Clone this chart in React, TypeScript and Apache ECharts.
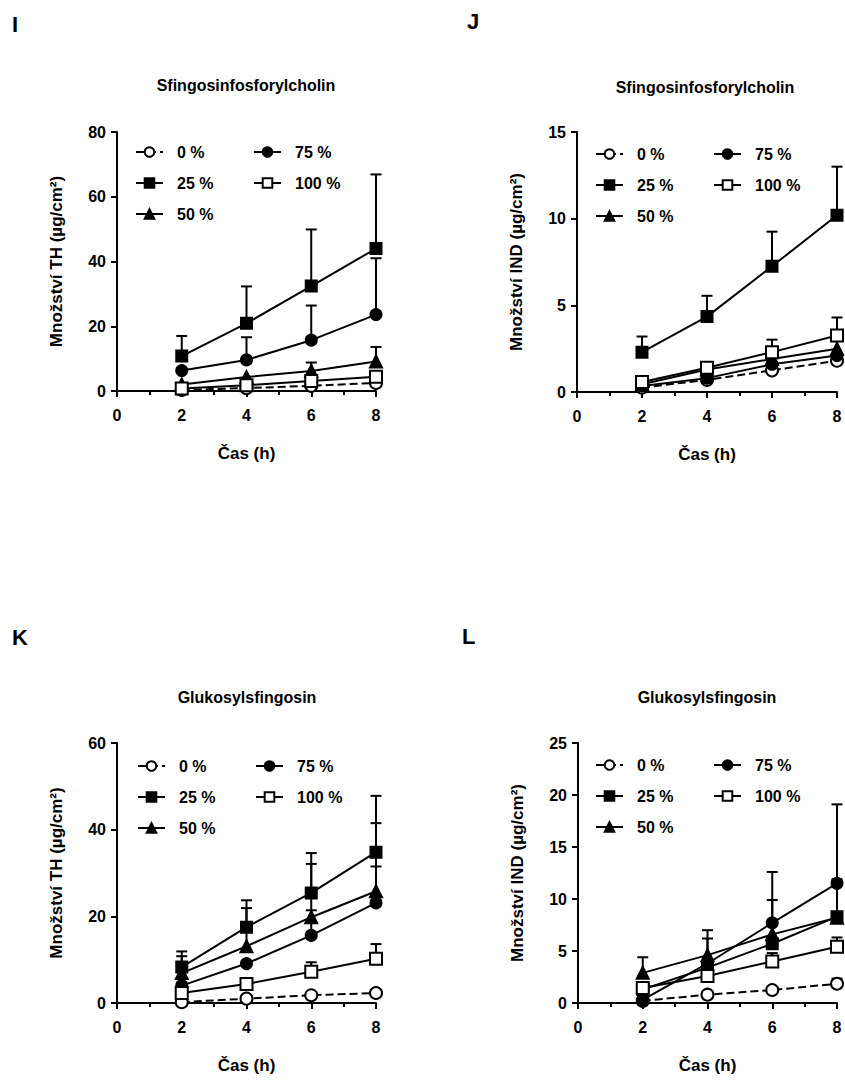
import React, { useEffect, useRef } from "react";
import * as echarts from "echarts";

// ---------- data ----------
const times = [2, 4, 6, 8];
const seriesNames = ["0 %", "25 %", "50 %", "75 %", "100 %"];

// Panel I: Sfingosinfosforylcholin, TH
const iMean0 = [0.3, 0.9, 1.6, 2.5];
const iMean25 = [10.8, 20.9, 32.4, 44.0];
const iMean50 = [2.0, 4.3, 6.2, 9.1];
const iMean75 = [6.3, 9.6, 15.7, 23.6];
const iMean100 = [0.8, 1.8, 3.1, 4.4];
const iSd0 = [null, null, null, null];
const iSd25 = [6.2, 11.4, 17.5, 22.9];
const iSd50 = [null, null, 2.6, 4.5];
const iSd75 = [null, 7.0, 10.7, 17.4];
const iSd100 = [null, null, null, null];

// Panel J: Sfingosinfosforylcholin, IND
const jMean0 = [0.25, 0.7, 1.25, 1.8];
const jMean25 = [2.3, 4.35, 7.25, 10.2];
const jMean50 = [0.45, 1.3, 1.9, 2.5];
const jMean75 = [0.35, 0.8, 1.6, 2.1];
const jMean100 = [0.58, 1.4, 2.3, 3.26];
const jSd0 = [null, null, null, null];
const jSd25 = [0.9, 1.2, 2.0, 2.8];
const jSd50 = [null, null, null, null];
const jSd75 = [null, null, null, null];
const jSd100 = [null, 0.2, 0.72, 1.04];

// Panel K: Glukosylsfingosin, TH
const kMean0 = [0.2, 1.0, 1.8, 2.3];
const kMean25 = [8.3, 17.5, 25.4, 34.8];
const kMean50 = [6.9, 13.1, 19.8, 25.8];
const kMean75 = [4.0, 9.1, 15.6, 23.1];
const kMean100 = [2.3, 4.4, 7.2, 10.2];
const kSd0 = [null, null, null, null];
const kSd25 = [3.6, 6.2, 9.2, 13.0];
const kSd50 = [3.9, 8.8, 12.3, 15.7];
const kSd75 = [null, null, 5.8, 8.4];
const kSd100 = [null, null, 2.2, 3.4];

// Panel L: Glukosylsfingosin, IND
const lMean0 = [0.2, 0.8, 1.25, 1.85];
const lMean25 = [1.3, 3.4, 5.7, 8.3];
const lMean50 = [2.9, 4.6, 6.6, 8.2];
const lMean75 = [0.3, 3.8, 7.7, 11.5];
const lMean100 = [1.45, 2.6, 4.0, 5.4];
const lSd0 = [null, null, null, 0.5];
const lSd25 = [null, null, null, 3.6];
const lSd50 = [1.5, 2.4, 3.3, null];
const lSd75 = [null, 2.4, 4.9, 7.6];
const lSd100 = [null, null, 0.8, 0.9];

const xTicks = [0, 2, 4, 6, 8];
const yMaxI = 80, yStepI = 20;
const yMaxJ = 15, yStepJ = 5;
const yMaxK = 60, yStepK = 20;
const yMaxL = 25, yStepL = 5;

const panelLetters = ["I", "J", "K", "L"];
const panelTitles = ["Sfingosinfosforylcholin", "Sfingosinfosforylcholin", "Glukosylsfingosin", "Glukosylsfingosin"];
const yNames = ["Množství TH (µg/cm²)", "Množství IND (µg/cm²)", "Množství TH (µg/cm²)", "Množství IND (µg/cm²)"];
const xName = "Čas (h)";

// ---------- layout ----------
const FONT = "Liberation Sans, Arial, Helvetica, sans-serif";
const panels = [
  { left: 117, top: 132, width: 259, height: 259, max: yMaxI, step: yStepI,
    means: [iMean0, iMean25, iMean50, iMean75, iMean100], sds: [iSd0, iSd25, iSd50, iSd75, iSd100],
    titleX: 246, titleY: 85, letterX: 12, letterY: 24, legTop: 144, leg1: 135, leg2: 253 },
  { left: 577, top: 132, width: 260, height: 260, max: yMaxJ, step: yStepJ,
    means: [jMean0, jMean25, jMean50, jMean75, jMean100], sds: [jSd0, jSd25, jSd50, jSd75, jSd100],
    titleX: 705, titleY: 87, letterX: 467, letterY: 21, legTop: 146, leg1: 595, leg2: 713 },
  { left: 117, top: 743, width: 259, height: 260, max: yMaxK, step: yStepK,
    means: [kMean0, kMean25, kMean50, kMean75, kMean100], sds: [kSd0, kSd25, kSd50, kSd75, kSd100],
    titleX: 247, titleY: 697, letterX: 12, letterY: 637, legTop: 758, leg1: 137, leg2: 255 },
  { left: 578, top: 743, width: 259, height: 260, max: yMaxL, step: yStepL,
    means: [lMean0, lMean25, lMean50, lMean75, lMean100], sds: [lSd0, lSd25, lSd50, lSd75, lSd100],
    titleX: 707, titleY: 697, letterX: 462, letterY: 636, legTop: 757, leg1: 595, leg2: 713 },
];

const styles = [
  { symbol: "circle", size: 12, fill: "#fff", dash: "dashed" },
  { symbol: "rect", size: 11, fill: "#000", dash: "solid" },
  { symbol: "triangle", size: 12, fill: "#000", dash: "solid" },
  { symbol: "circle", size: 11, fill: "#000", dash: "solid" },
  { symbol: "rect", size: 12, fill: "#fff", dash: "solid" },
];

function errRender(params: any, api: any) {
  const x = api.value(0);
  const y = api.value(1);
  const t = api.value(2);
  const p0 = api.coord([x, y]);
  const p1 = api.coord([x, t]);
  const st = { stroke: "#000", lineWidth: 2 };
  return {
    type: "group",
    children: [
      { type: "line", shape: { x1: p0[0], y1: p0[1], x2: p1[0], y2: p1[1] }, style: st },
      { type: "line", shape: { x1: p1[0] - 5.5, y1: p1[1], x2: p1[0] + 5.5, y2: p1[1] }, style: st },
    ],
  };
}

function buildOption() {
  const grid: any[] = [];
  const xAxis: any[] = [];
  const yAxis: any[] = [];
  const series: any[] = [];
  const legend: any[] = [];
  const graphic: any[] = [];
  const axisLabelStyle = { color: "#000", fontFamily: FONT, fontWeight: "bold", fontSize: 16 };

  panels.forEach((p, gi) => {
    grid.push({ left: p.left, top: p.top, width: p.width, height: p.height, containLabel: false });
    xAxis.push({
      type: "value", gridIndex: gi, min: xTicks[0], max: xTicks[xTicks.length - 1], interval: 2,
      name: xName, nameLocation: "middle", nameGap: 54,
      nameTextStyle: { color: "#000", fontFamily: FONT, fontWeight: "bold", fontSize: 17 },
      axisLine: { lineStyle: { color: "#000", width: 2 } },
      axisTick: { length: 6, lineStyle: { color: "#000", width: 2 } },
      minorTick: { show: true, splitNumber: 2, length: 4, lineStyle: { color: "#000", width: 2 } },
      axisLabel: { ...axisLabelStyle, margin: 16 },
      splitLine: { show: false },
    });
    yAxis.push({
      type: "value", gridIndex: gi, min: 0, max: p.max, interval: p.step,
      name: yNames[gi], nameLocation: "middle", nameGap: 52, nameRotate: 90,
      nameTextStyle: { color: "#000", fontFamily: FONT, fontWeight: "bold", fontSize: 17 },
      axisLine: { show: true, lineStyle: { color: "#000", width: 2 } },
      axisTick: { show: true, length: 6, lineStyle: { color: "#000", width: 2 } },
      axisLabel: { ...axisLabelStyle, margin: 11 },
      splitLine: { show: false },
    });

    // error bars
    p.sds.forEach((sd, si) => {
      const data: any[] = [];
      sd.forEach((v, ti) => {
        if (v != null) data.push([times[ti], p.means[si][ti], p.means[si][ti] + v]);
      });
      if (data.length) {
        series.push({
          type: "custom", name: "err" + gi + "_" + si, xAxisIndex: gi, yAxisIndex: gi,
          renderItem: errRender, data, encode: { x: 0, y: [1, 2] }, z: 1, silent: true,
        });
      }
    });

    p.means.forEach((m, si) => {
      const s = styles[si];
      series.push({
        type: "line", name: seriesNames[si], xAxisIndex: gi, yAxisIndex: gi,
        data: m.map((v, ti) => [times[ti], v]),
        symbol: s.symbol, symbolSize: s.size, showSymbol: true,
        itemStyle: { color: s.fill, borderColor: "#000", borderWidth: 2 },
        lineStyle: { color: "#000", width: 2, type: s.dash },
        z: 2 + si, clip: false, silent: true,
      });
    });

    const legCommon = {
      orient: "vertical", top: p.legTop, padding: 0, itemGap: 15,
      itemWidth: 27, itemHeight: 12, selectedMode: false,
      textStyle: { color: "#000", fontFamily: FONT, fontWeight: "bold", fontSize: 16, padding: [0, 0, 0, 9] },
    };
    legend.push({ ...legCommon, left: p.leg1, data: [seriesNames[0], seriesNames[1], seriesNames[2]] });
    legend.push({ ...legCommon, left: p.leg2, data: [seriesNames[3], seriesNames[4]] });

    graphic.push({
      type: "text", x: p.titleX, y: p.titleY,
      style: { text: panelTitles[gi], fill: "#000", font: `bold 16px ${FONT}`, textAlign: "center", textVerticalAlign: "middle" },
    });
    graphic.push({
      type: "text", x: p.letterX, y: p.letterY,
      style: { text: panelLetters[gi], fill: "#000", font: `bold 22px ${FONT}`, textAlign: "left", textVerticalAlign: "middle" },
    });
  });

  return { animation: false, backgroundColor: "#fff", grid, xAxis, yAxis, series, legend, graphic };
}

export default function App() {
  const ref = useRef<HTMLDivElement>(null);
  useEffect(() => {
    if (!ref.current) return;
    const chart = echarts.init(ref.current, undefined, { renderer: "svg" });
    chart.setOption(buildOption() as any);
    return () => chart.dispose();
  }, []);
  return <div ref={ref} style={{ position: "absolute", left: 0, top: 0, width: 845, height: 1080 }} />;
}
